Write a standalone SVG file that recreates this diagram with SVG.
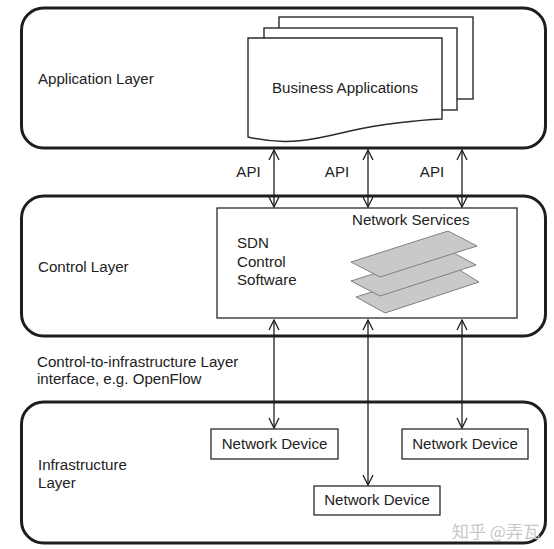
<svg xmlns="http://www.w3.org/2000/svg" width="554" height="549" viewBox="0 0 554 549">
<style>
text{font-family:"Liberation Sans",Arial,sans-serif;font-size:15.1px;fill:#222}
.layer{fill:#fff;stroke:#1e1e1e;stroke-width:3}
.page{fill:#fff;stroke:#2a2a2a;stroke-width:1.4}
.box{fill:#fff;stroke:#2a2a2a;stroke-width:1.3}
.sheet{fill:#c9c9c9;stroke:#808080;stroke-width:1}
.conn line{stroke:#1e1e1e;stroke-width:1.3;marker-start:url(#ah);marker-end:url(#ah)}
.mid{text-anchor:middle}
.wm{font-family:"Noto Sans CJK SC","Liberation Sans",sans-serif;font-size:17px;fill:#c8c8c8}
</style>
<defs>
<marker id="ah" viewBox="0 0 12 12" refX="11" refY="6" markerWidth="12" markerHeight="12" markerUnits="userSpaceOnUse" orient="auto-start-reverse">
<path d="M1,1 L11,6 L1,11" fill="none" stroke="#1e1e1e" stroke-width="1.3"/>
</marker>
</defs>
<rect width="554" height="549" fill="#fff"/>

<g id="app-layer">
<rect class="layer" x="21.5" y="8" width="524" height="140" rx="22"/>
<text x="38" y="84">Application Layer</text>
</g>

<g id="business-apps">
<rect class="page" x="279" y="17" width="194" height="82"/>
<rect class="page" x="264" y="28" width="193" height="82"/>
<path class="page" d="M248,38 H442 V119 C420,120 380,124 350,131 C320,138 290,147 248,137 Z"/>
<text class="mid" x="345" y="93">Business Applications</text>
</g>

<g id="control-layer">
<rect class="layer" x="21.5" y="196" width="524" height="140" rx="22"/>
<text x="38" y="272">Control Layer</text>
</g>

<g id="sdn-control">
<rect class="box" x="217" y="208" width="300" height="110"/>
<text x="237" y="248">SDN</text>
<text x="237" y="267">Control</text>
<text x="237" y="285">Software</text>
</g>

<g id="network-services">
<text x="352" y="225">Network Services</text>
<polygon class="sheet" points="356,297 453,266 479,282 385,313"/>
<polygon class="sheet" points="351,281 448,250 476,265 380,296"/>
<polygon class="sheet" points="351,262 448,231 477,246 380,277"/>
</g>

<g id="infra-layer">
<rect class="layer" x="21.5" y="402" width="524" height="141" rx="22"/>
<text x="38" y="470">Infrastructure</text>
<text x="38" y="488">Layer</text>
</g>

<g id="device-1">
<rect class="box" x="211" y="429" width="127" height="30"/>
<text class="mid" x="274.5" y="449">Network Device</text>
</g>
<g id="device-2">
<rect class="box" x="402" y="429" width="126" height="30"/>
<text class="mid" x="465" y="449">Network Device</text>
</g>
<g id="device-3">
<rect class="box" x="314" y="486" width="126" height="29"/>
<text class="mid" x="377" y="505">Network Device</text>
</g>

<g id="labels">
<text class="mid" x="248.5" y="177">API</text>
<text class="mid" x="337" y="177">API</text>
<text class="mid" x="432" y="177">API</text>
<text x="37" y="367">Control-to-infrastructure Layer</text>
<text x="37" y="384">interface, e.g. OpenFlow</text>
</g>

<g id="connectors" class="conn">
<line x1="274" y1="150" x2="274" y2="207"/>
<line x1="368" y1="150" x2="368" y2="207"/>
<line x1="462" y1="150" x2="462" y2="207"/>
<line x1="274" y1="320" x2="274" y2="428"/>
<line x1="368" y1="320" x2="368" y2="485"/>
<line x1="462" y1="320" x2="462" y2="428"/>
</g>

<text class="wm" x="452" y="538">知乎 @弄瓦</text>
</svg>
